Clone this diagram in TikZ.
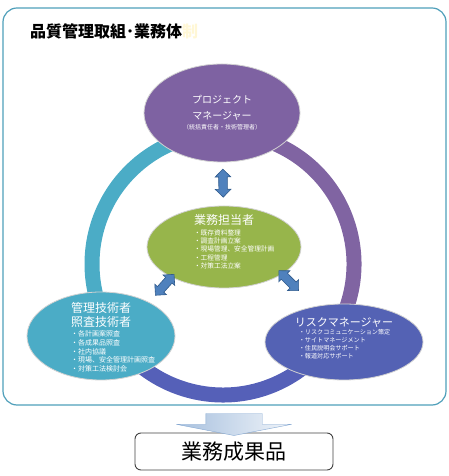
\documentclass[tikz,border=0pt]{standalone}
\usepackage{fontspec}
\newfontfamily\jp{Noto Sans CJK JP}
\usetikzlibrary{shapes.geometric,shapes.arrows,positioning}
\definecolor{framecol}{HTML}{4F9FBA}
\definecolor{pmcol}{HTML}{7E62A2}
\definecolor{tantocol}{HTML}{97B54B}
\definecolor{kanricol}{HTML}{4BACC6}
\definecolor{riskcol}{HTML}{5462B4}
\definecolor{ringA}{HTML}{4BACC6}
\definecolor{ringB}{HTML}{8064A2}
\definecolor{ringC}{HTML}{5560B8}
\definecolor{arrfill}{HTML}{4F81BD}
\definecolor{arrline}{HTML}{2F5A8C}
\definecolor{boxline}{HTML}{404040}
\definecolor{fadecol}{HTML}{FFF7D6}

\begin{document}
\begin{tikzpicture}[x=1pt,y=1pt,
  every node/.style={font=\jp},
  oval/.style={ellipse, draw=gray!35, line width=0.8pt, inner sep=0pt},
  ttl/.style={text=white, inner sep=0pt, align=center},
  lst/.style={text=white, inner sep=0pt, align=left},
  dblarr/.style={double arrow, draw=arrline, fill=arrfill, line width=0.6pt,
                 inner xsep=0pt, inner ysep=4pt, minimum height=28pt,
                 double arrow head extend=3.5pt},
  sarr/.style={single arrow, draw=arrfill!70, left color=arrfill!50, right color=arrfill!8,
               inner xsep=0pt, inner ysep=28pt, minimum height=22pt,
               single arrow head extend=29.5pt, single arrow tip angle=158}]
\useasboundingbox (0,0) rectangle (449,476);
\node[draw=framecol, line width=1.2pt, rounded corners=14pt,
      minimum width=443pt, minimum height=397pt] (frame) at (224.5,269.5) {};
\node[anchor=west, inner sep=0pt, font=\jp\bfseries\fontsize{16}{18}\selectfont]
  (title) at (30,445) {品質管理取組･業務体{\color{fadecol}制}};

% ring
\node[circle, minimum size=262pt, inner sep=0pt, outer sep=0pt] (ring) at (223,212) {};
\draw[line width=15pt, ringA] (ring.90) arc[start angle=90, end angle=210, radius=131];
\draw[line width=15pt, ringC] (ring.210) arc[start angle=210, end angle=330, radius=131];
\draw[line width=15pt, ringB] (ring.330) arc[start angle=330, end angle=450, radius=131];

\node[oval, fill=pmcol, minimum width=156pt, minimum height=98pt] (pm) at (222,363) {};
\node[oval, fill=tantocol, minimum width=154pt, minimum height=82pt] (tanto) at (224,229) {};
\node[oval, fill=kanricol, minimum width=148pt, minimum height=88pt] (kanri) at (101,140) {};
\node[oval, fill=riskcol, minimum width=158pt, minimum height=76pt] (risk) at (344,134) {};

\node[ttl, font=\jp\fontsize{10}{16}\selectfont] (pmT) at ([yshift=5pt]pm.center)
  {プロジェクト\\マネージャー};
\node[ttl, font=\jp\fontsize{6}{7}\selectfont, below=3pt of pmT] (pmS)
  {（統括責任者・技術管理者）};

\node[ttl, font=\jp\fontsize{12}{14}\selectfont] (tantoT) at ([yshift=27pt]tanto.center) {業務担当者};
\node[lst, font=\jp\fontsize{6.7}{8.2}\selectfont, below=4pt of tantoT.south west, anchor=north west]
  (tantoL) {・既存資料整理\\・調査計画立案\\・現場管理、安全管理計画\\・工程管理\\・対策工法立案};

\node[ttl, font=\jp\fontsize{12}{14}\selectfont] (kanriT) at ([yshift=21pt]kanri.center)
  {管理技術者\\照査技術者};
\node[lst, font=\jp\fontsize{7}{8.6}\selectfont, below=3pt of kanriT.south west, anchor=north west]
  (kanriL) {・各計画案照査\\・各成果品照査\\・社内協議\\・現場、安全管理計画照査\\・対策工法検討会};

\node[ttl, font=\jp\fontsize{11}{13}\selectfont] (riskT) at ([yshift=19pt]risk.center) {リスクマネージャー};
\node[lst, font=\jp\fontsize{6.1}{8}\selectfont, below=1.5pt of riskT.south west, anchor=north west, xshift=4pt]
  (riskL) {・リスクコミュニケーション策定\\・サイトマネージメント\\・住民説明会サポート\\・報道対応サポート};

% links
\path (pm) -- (tanto) node[dblarr, sloped, pos=0.48] (pmtanto) {};
\path (tanto.210) -- (kanri.35) node[dblarr, sloped, pos=0.3] (tantokanri) {};
\path (tanto.-25) -- (risk.130) node[dblarr, sloped, pos=0.2] (tantorisk) {};

% result
\node[draw=boxline, line width=0.9pt, rounded corners=6pt, minimum width=198pt, minimum height=37pt,
      font=\jp\fontsize{21}{24}\selectfont] (result) at (234,24.5) {業務成果品};
\path (result.north |- frame.south) -- (result.north)
  node[sarr, sloped, allow upside down, pos=0.6] (down) {};
\end{tikzpicture}
\end{document}
